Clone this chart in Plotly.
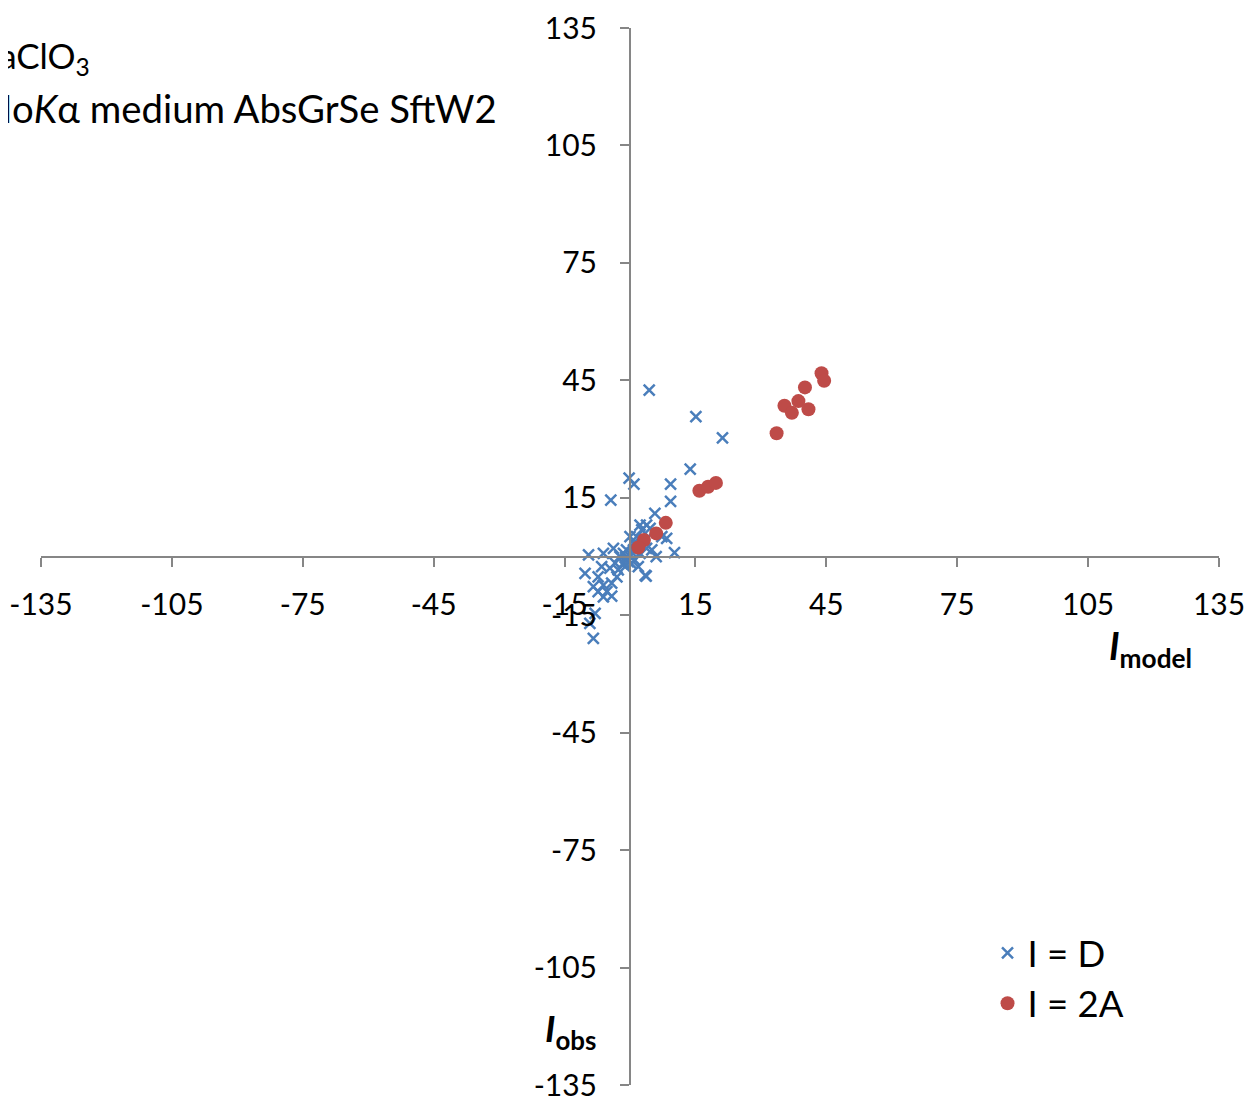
import plotly.graph_objects as go

# I = D series (blue crosses)
d_model = [4.4, 15.1, 21.2, 13.8, 9.3, 9.3, -0.2, 0.9, -4.4, 5.7, 8.4, 10.2, 6.0, 3.7, 3.5,
           -9.5, -6.1, -3.8, -10.3, -7.3, -8.4, -5.3, -6.1, -4.2, -8.0, -9.2, -8.4,
           -2.7, -1.5, 1.5, 2.7, 4.6, 0.8, 0.0, 1.1, 2.3, -0.8, -2.3, -1.1, -3.4, -4.6,
           1.5, 3.4, 1.9, -6.5, -3.0, -4.2, -6.1, -7.3, 0.0, 2.3, 3.8, -0.4, -1.5, 0.8,
           3.8, 5.0, 7.3, 0.5, 1.2, -0.6, 2.0, 0.3, -1.0]
d_obs = [42.5, 35.7, 30.3, 22.3, 18.5, 14.1, 20.0, 18.5, 14.4, 11.0, 4.6, 1.0, -0.05, -5.0, -4.8,
         0.4, 0.8, 2.1, -4.3, -5.2, -7.7, -9.0, -10.3, -10.1, -14.5, -17.1, -20.9,
         -3.4, -1.7, 5.1, 6.8, 7.2, 3.4, 0.0, -0.9, 0.8, 1.7, 0.0, -2.6, -1.7, -3.0,
         2.5, 4.2, -2.6, -2.6, -5.2, -6.8, -7.3, -9.0, 5.1, 8.0, 8.0, -1.3, 0.8, 1.7,
         2.1, 1.7, 5.1, 1.0, 2.8, -0.5, 3.0, -1.8, -0.3]

# I = 2A series (red circles)
a_model = [43.9, 44.5, 40.1, 38.6, 35.4, 37.1, 40.9, 33.6, 15.9, 17.9, 19.7, 8.2, 6.0, 3.2, 1.9]
a_obs = [46.8, 44.9, 43.2, 39.7, 38.5, 36.7, 37.6, 31.5, 16.8, 17.8, 18.8, 8.6, 5.9, 4.2, 2.3]

tick_vals = [-135, -105, -75, -45, -15, 15, 45, 75, 105, 135]
tick_text = [str(v) for v in tick_vals]

FONT = "Lato"
AX = "#868686"

fig = go.Figure()
fig.add_trace(go.Scatter(
    x=d_model, y=d_obs, mode="markers", name="I = D",
    marker=dict(symbol="x-thin", size=11, color="#4A7EBB",
                line=dict(width=2.5, color="#4A7EBB")),
))
fig.add_trace(go.Scatter(
    x=a_model, y=a_obs, mode="markers", name="I = 2A",
    marker=dict(symbol="circle", size=14, color="#BE4B48", line=dict(width=0)),
))

axis_common = dict(
    range=[-135, 135], tickvals=tick_vals, ticktext=tick_text,
    showgrid=False, zeroline=False, showline=True, linecolor=AX, linewidth=2,
    ticks="outside", ticklen=9, tickwidth=2, tickcolor=AX,
    tickfont=dict(family=FONT, size=30, color="black"),
    anchor="free", position=0.5, automargin=False,
)

fig.update_layout(
    width=1252, height=1102,
    margin=dict(l=33, r=41, t=20, b=25, autoexpand=False),
    paper_bgcolor="white", plot_bgcolor="white",
    xaxis=dict(**axis_common, ticklabelstandoff=12),
    yaxis=dict(**axis_common, ticklabelstandoff=17),
    showlegend=True,
    legend=dict(x=0.8035, y=0.1537, xanchor="left", yanchor="top",
                font=dict(family=FONT, size=36.5, color="black"),
                bgcolor="rgba(0,0,0,0)", itemwidth=30),
    font=dict(family=FONT),
)

anns = [
    dict(text="NaClO<sub>3</sub>", x=92, y=58, size=35),
    dict(text="Mo<i>K</i>α medium AbsGrSe SftW2", x=499, y=108, size=38.3),
]
for a in anns:
    fig.add_annotation(text=a["text"], xref="paper", yref="paper",
                       x=(a["x"] - 41) / 1178, y=(1085 - a["y"]) / 1057,
                       xanchor="right", yanchor="middle", showarrow=False,
                       font=dict(family=FONT, size=a["size"], color="black"))

fig.add_annotation(text="<b><i>I</i></b><sub><b>model</b></sub>", xref="paper", yref="paper",
                   x=(1150 - 41) / 1178, y=(1085 - 648) / 1057, xanchor="center", yanchor="middle",
                   showarrow=False, font=dict(family=FONT, size=37.5, color="black"))
fig.add_annotation(text="<b><i>I</i></b><sub><b>obs</b></sub>", xref="paper", yref="paper",
                   x=(570 - 41) / 1178, y=(1085 - 1030) / 1057, xanchor="center", yanchor="middle",
                   showarrow=False, font=dict(family=FONT, size=37, color="black"))

fig.write_html("out.html")
